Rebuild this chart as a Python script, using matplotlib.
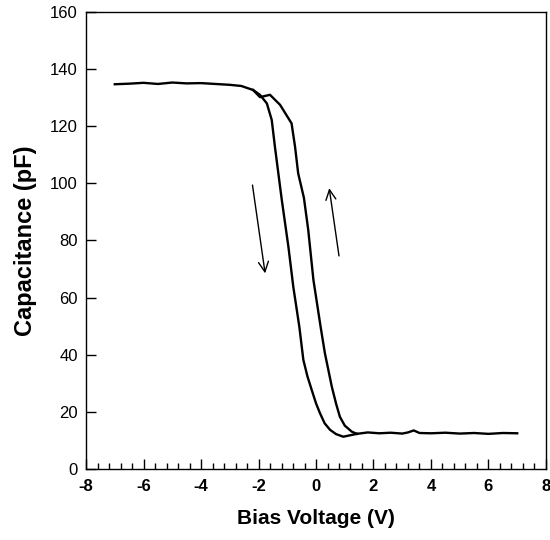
import matplotlib
matplotlib.use("Agg")
from matplotlib import pyplot as plt
from matplotlib.ticker import MultipleLocator

plt.rcParams['font.family'] = ['Liberation Sans', 'DejaVu Sans']
plt.rcParams['axes.unicode_minus'] = False

# branch that drops first (left curve)
v_down = [-7.0, -6.5, -6.0, -5.5, -5.0, -4.5, -4.0, -3.5, -3.0, -2.6, -2.19, -1.95,
          -1.71, -1.54, -1.43, -1.31, -1.19, -0.96, -0.79, -0.58, -0.44, -0.30, -0.15,
          0.0, 0.14, 0.30, 0.49, 0.70, 0.95, 1.42]
c_down = [134.7, 134.9, 135.2, 134.8, 135.3, 135.0, 135.1, 134.8, 134.5, 134.1, 132.7, 131.0,
          128.0, 122.2, 112.9, 103.5, 94.2, 77.8, 63.8, 49.8, 38.2, 32.5, 27.7,
          23.0, 19.5, 16.0, 13.7, 12.2, 11.3, 12.3]

# branch that recovers (right curve)
v_up = [-2.19, -1.95, -1.60, -1.25, -0.85, -0.73, -0.62, -0.42, -0.27, -0.09, 0.16,
        0.31, 0.55, 0.70, 0.83, 1.0, 1.24, 1.42]
c_up = [132.7, 130.2, 131.0, 127.5, 121.0, 112.9, 103.5, 94.9, 83.7, 66.2, 49.8,
        40.5, 28.8, 22.8, 18.3, 15.2, 13.1, 12.3]

# common flat tail at high bias
v_tail = [1.42, 1.8, 2.2, 2.6, 3.0, 3.2, 3.4, 3.6, 4.0, 4.5, 5.0, 5.5, 6.0, 6.5, 7.0]
c_tail = [12.3, 12.8, 12.5, 12.7, 12.4, 12.8, 13.5, 12.6, 12.5, 12.7, 12.4, 12.6, 12.3, 12.6, 12.5]

# sweep direction arrows (tail -> tip)
arrow_down = ((-2.21, 99.4), (-1.77, 68.5))
arrow_up = ((0.80, 74.6), (0.46, 98.3))

fig = plt.figure(figsize=(5.5, 5.4), dpi=100)
ax = fig.add_axes([0.1564, 0.1315, 0.8363, 0.8463])

for vs, cs in ((v_down, c_down), (v_up, c_up), (v_tail, c_tail)):
    ax.plot(vs, cs, color='black', lw=1.7, solid_joinstyle='round')

for tail, tip in (arrow_down, arrow_up):
    ax.annotate('', xy=tip, xytext=tail,
                arrowprops=dict(arrowstyle='->', color='black', lw=1.0,
                                mutation_scale=18, shrinkA=0, shrinkB=0))

ax.set_xlim(-8, 8)
ax.set_ylim(0, 160)
ax.xaxis.set_major_locator(MultipleLocator(2))
ax.xaxis.set_minor_locator(MultipleLocator(0.4))
ax.yaxis.set_major_locator(MultipleLocator(20))
ax.tick_params(which='both', direction='in', top=False, right=False)
ax.tick_params(which='major', length=7, width=1)
ax.tick_params(which='minor', length=4, width=1)
ax.tick_params(axis='x', labelsize=12, pad=7)
ax.tick_params(axis='y', labelsize=12, pad=6)
for lab in ax.get_xticklabels():
    lab.set_fontweight('bold')

for sp in ax.spines.values():
    sp.set_linewidth(1.0)

ax.set_xlabel('Bias Voltage (V)', fontsize=15, fontweight='bold', labelpad=11)
ax.set_ylabel('Capacitance (pF)', fontsize=17, fontweight='bold', labelpad=9)

fig.savefig('out.png', dpi=100)
